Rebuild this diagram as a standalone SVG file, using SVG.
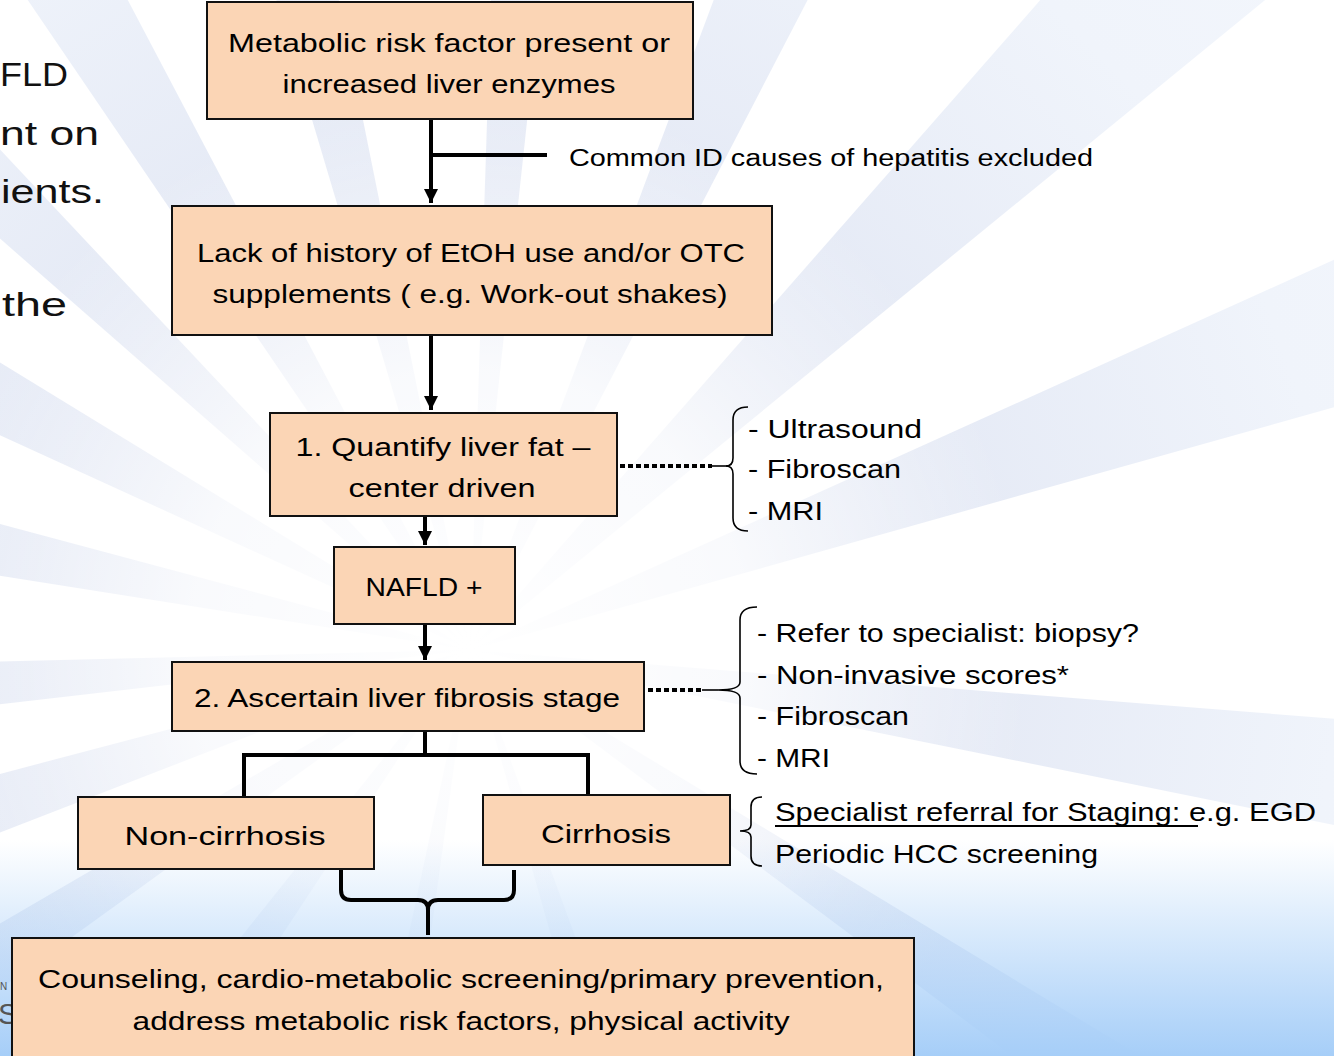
<svg xmlns="http://www.w3.org/2000/svg" xmlns:xlink="http://www.w3.org/1999/xlink" width="1334" height="1056" viewBox="0 0 1334 1056">
<defs>
<style>
.box{fill:#FBD5B5;stroke:#111;stroke-width:2}
.t{font-family:"Liberation Sans",Arial,sans-serif;font-size:26px;fill:#000}
.tc{text-anchor:middle}
.side{font-family:"Liberation Sans",Arial,sans-serif;font-size:23px;fill:#000}
.edge{fill:none;stroke:#000;stroke-width:4}
.dot{fill:none;stroke:#000;stroke-width:4;stroke-dasharray:5 3}
.brace{fill:none;stroke:#000;stroke-width:1.6}
.ray{fill:url(#rayFill)}
.bg{font-family:"Liberation Sans",Arial,sans-serif;font-size:34px;fill:#111}
</style>
<marker id="ah" viewBox="0 0 10 10" refX="10" refY="5" markerWidth="3.6" markerHeight="3.6" orient="auto" markerUnits="strokeWidth">
<path d="M0 0 L10 5 L0 10 Z" fill="#000"/>
</marker>
<linearGradient id="rayFill" gradientUnits="userSpaceOnUse" x1="0" y1="0" x2="1334" y2="0">
<stop offset="0" stop-color="#DCE2F1"/>
<stop offset="0.35" stop-color="#E4E9F5"/>
<stop offset="0.65" stop-color="#F0F4FB"/>
<stop offset="1" stop-color="#F5F8FD"/>
</linearGradient>
<radialGradient id="fade" gradientUnits="userSpaceOnUse" cx="470" cy="650" r="560">
<stop offset="0" stop-color="#fff" stop-opacity="1"/>
<stop offset="0.5" stop-color="#fff" stop-opacity="0.8"/>
<stop offset="1" stop-color="#fff" stop-opacity="0"/>
</radialGradient>
<linearGradient id="blue" x1="0" y1="0" x2="0" y2="1">
<stop offset="0" stop-color="#A6CEF8" stop-opacity="0"/>
<stop offset="1" stop-color="#A6CEF8" stop-opacity="1"/>
</linearGradient>
<path id="ray" d="M0 0 L1700 -64 L1700 64 Z"/>
</defs>

<g id="background">
<rect width="1334" height="1056" fill="#fff"/>
<g transform="translate(470 650)">
<use xlink:href="#ray" class="ray" transform="rotate(-168) scale(1 1.4)"/>
<use xlink:href="#ray" class="ray" transform="rotate(-152) scale(1 1.6)"/>
<use xlink:href="#ray" class="ray" transform="rotate(-136) scale(1 1.3)"/>
<use xlink:href="#ray" class="ray" transform="rotate(-121) scale(1 1.5)"/>
<use xlink:href="#ray" class="ray" transform="rotate(-104) scale(1 1.2)"/>
<use xlink:href="#ray" class="ray" transform="rotate(-86) scale(1 1.0)"/>
<use xlink:href="#ray" class="ray" transform="rotate(-66) scale(1 1.6)"/>
<use xlink:href="#ray" class="ray" transform="rotate(-44) scale(1 2.2)"/>
<use xlink:href="#ray" class="ray" transform="rotate(-20) scale(1 2.0)"/>
<use xlink:href="#ray" class="ray" transform="rotate(8) scale(1 1.6)"/>
<use xlink:href="#ray" class="ray" transform="rotate(176) scale(1 1.2)"/>
<use xlink:href="#ray" class="ray" transform="rotate(162) scale(1 1.5)"/>
<use xlink:href="#ray" class="ray" transform="rotate(147) scale(1 1.3)"/>
<use xlink:href="#ray" class="ray" transform="rotate(126) scale(1 1.2)"/>
<use xlink:href="#ray" class="ray" transform="rotate(100) scale(1 1.0)"/>
<use xlink:href="#ray" class="ray" transform="rotate(72) scale(1 1.0)"/>
<use xlink:href="#ray" class="ray" transform="rotate(34) scale(1 1.3)"/>
</g>
<rect width="1334" height="1056" fill="url(#fade)"/>
<rect x="0" y="840" width="1334" height="216" fill="url(#blue)"/>
<text class="bg" x="0" y="86" textLength="68" lengthAdjust="spacingAndGlyphs">FLD</text>
<text class="bg" x="0" y="145" textLength="99" lengthAdjust="spacingAndGlyphs">nt on</text>
<text class="bg" x="1" y="203" textLength="103" lengthAdjust="spacingAndGlyphs">ients.</text>
<text class="bg" x="2" y="316" textLength="65" lengthAdjust="spacingAndGlyphs">the</text>
<text x="-2" y="1024" font-family="Liberation Sans,Arial,sans-serif" font-size="30" fill="#555">S</text>
<text x="0" y="990" font-family="Liberation Sans,Arial,sans-serif" font-size="10" fill="#555">N</text>
</g>

<g id="connectors">
<line class="edge" x1="431" y1="119" x2="431" y2="203" marker-end="url(#ah)"/>
<line class="edge" x1="431" y1="155" x2="547" y2="155"/>
<line class="edge" x1="431" y1="336" x2="431" y2="410" marker-end="url(#ah)"/>
<line class="edge" x1="425" y1="516" x2="425" y2="545" marker-end="url(#ah)"/>
<line class="edge" x1="425" y1="624" x2="425" y2="660" marker-end="url(#ah)"/>
<path class="edge" d="M425 731 L425 755 M244 797 L244 755 L588 755 L588 795"/>
<line class="dot" x1="620" y1="466" x2="712" y2="466"/>
<line class="brace" x1="710" y1="466" x2="727" y2="466"/>
<line class="dot" x1="648" y1="690" x2="704" y2="690"/>
<line class="brace" x1="702" y1="690" x2="718" y2="690"/>
<path class="edge" stroke-width="5" d="M341 870 L341 890 Q341 900 351 900 L418 900 Q428 900 428 910 L428 935 M428 910 Q428 900 438 900 L504 900 Q514 900 514 890 L514 870"/>
<path class="brace" d="M748 407 Q733 407 733 420 L733 458 Q733 466 726 466 Q733 466 733 474 L733 518 Q733 531 748 531"/>
<path class="brace" d="M757 607 Q740 607 740 620 L740 682 Q740 690 718 690 Q740 690 740 698 L740 761 Q740 774 757 774"/>
<path class="brace" d="M762 797 Q751 797 751 807 L751 825 Q751 831 740 831 Q751 831 751 837 L751 856 Q751 866 762 866"/>
</g>

<g id="n1">
<rect class="box" x="207" y="2" width="486" height="117"/>
<text class="t tc" x="449" y="52" textLength="442" lengthAdjust="spacingAndGlyphs">Metabolic risk factor present or</text>
<text class="t tc" x="449" y="93" textLength="333" lengthAdjust="spacingAndGlyphs">increased liver enzymes</text>
</g>
<g id="lbl-common">
<text class="side" x="569" y="166" textLength="524" lengthAdjust="spacingAndGlyphs">Common ID causes of hepatitis excluded</text>
</g>
<g id="n2">
<rect class="box" x="172" y="206" width="600" height="129"/>
<text class="t tc" x="471" y="262" textLength="548" lengthAdjust="spacingAndGlyphs">Lack of history of EtOH use and/or OTC</text>
<text class="t tc" x="470" y="303" textLength="515" lengthAdjust="spacingAndGlyphs">supplements ( e.g. Work-out shakes)</text>
</g>
<g id="n3">
<rect class="box" x="270" y="413" width="347" height="103"/>
<text class="t tc" x="443" y="456" textLength="295" lengthAdjust="spacingAndGlyphs">1. Quantify liver fat –</text>
<text class="t tc" x="442" y="497" textLength="187" lengthAdjust="spacingAndGlyphs">center driven</text>
</g>
<g id="list1">
<text class="t" x="748" y="438" textLength="174" lengthAdjust="spacingAndGlyphs">- Ultrasound</text>
<text class="t" x="748" y="478" textLength="153" lengthAdjust="spacingAndGlyphs">- Fibroscan</text>
<text class="t" x="748" y="520" textLength="75" lengthAdjust="spacingAndGlyphs">- MRI</text>
</g>
<g id="n4">
<rect class="box" x="334" y="547" width="181" height="77"/>
<text class="t tc" x="424" y="596" textLength="117" lengthAdjust="spacingAndGlyphs">NAFLD +</text>
</g>
<g id="n5">
<rect class="box" x="172" y="662" width="472" height="69"/>
<text class="t tc" x="407" y="707" textLength="426" lengthAdjust="spacingAndGlyphs">2. Ascertain liver fibrosis stage</text>
</g>
<g id="list2">
<text class="t" x="757" y="642" textLength="382" lengthAdjust="spacingAndGlyphs">- Refer to specialist: biopsy?</text>
<text class="t" x="757" y="684" textLength="312" lengthAdjust="spacingAndGlyphs">- Non-invasive scores*</text>
<text class="t" x="757" y="725" textLength="152" lengthAdjust="spacingAndGlyphs">- Fibroscan</text>
<text class="t" x="757" y="767" textLength="73" lengthAdjust="spacingAndGlyphs">- MRI</text>
</g>
<g id="n6">
<rect class="box" x="78" y="797" width="296" height="72"/>
<text class="t tc" x="225" y="845" textLength="201" lengthAdjust="spacingAndGlyphs">Non-cirrhosis</text>
</g>
<g id="n7">
<rect class="box" x="483" y="795" width="247" height="70"/>
<text class="t tc" x="606" y="843" textLength="130" lengthAdjust="spacingAndGlyphs">Cirrhosis</text>
</g>
<g id="list3">
<text class="t" x="775" y="821" textLength="541" lengthAdjust="spacingAndGlyphs">Specialist referral for Staging: e.g. EGD</text>
<line x1="775" y1="826" x2="1198" y2="826" stroke="#000" stroke-width="2"/>
<text class="t" x="775" y="863" textLength="323" lengthAdjust="spacingAndGlyphs">Periodic HCC screening</text>
</g>
<g id="n8">
<rect class="box" x="12" y="938" width="902" height="130"/>
<text class="t tc" x="461" y="988" textLength="846" lengthAdjust="spacingAndGlyphs">Counseling, cardio-metabolic screening/primary prevention,</text>
<text class="t tc" x="461" y="1030" textLength="657" lengthAdjust="spacingAndGlyphs">address metabolic risk factors, physical activity</text>
</g>
</svg>
